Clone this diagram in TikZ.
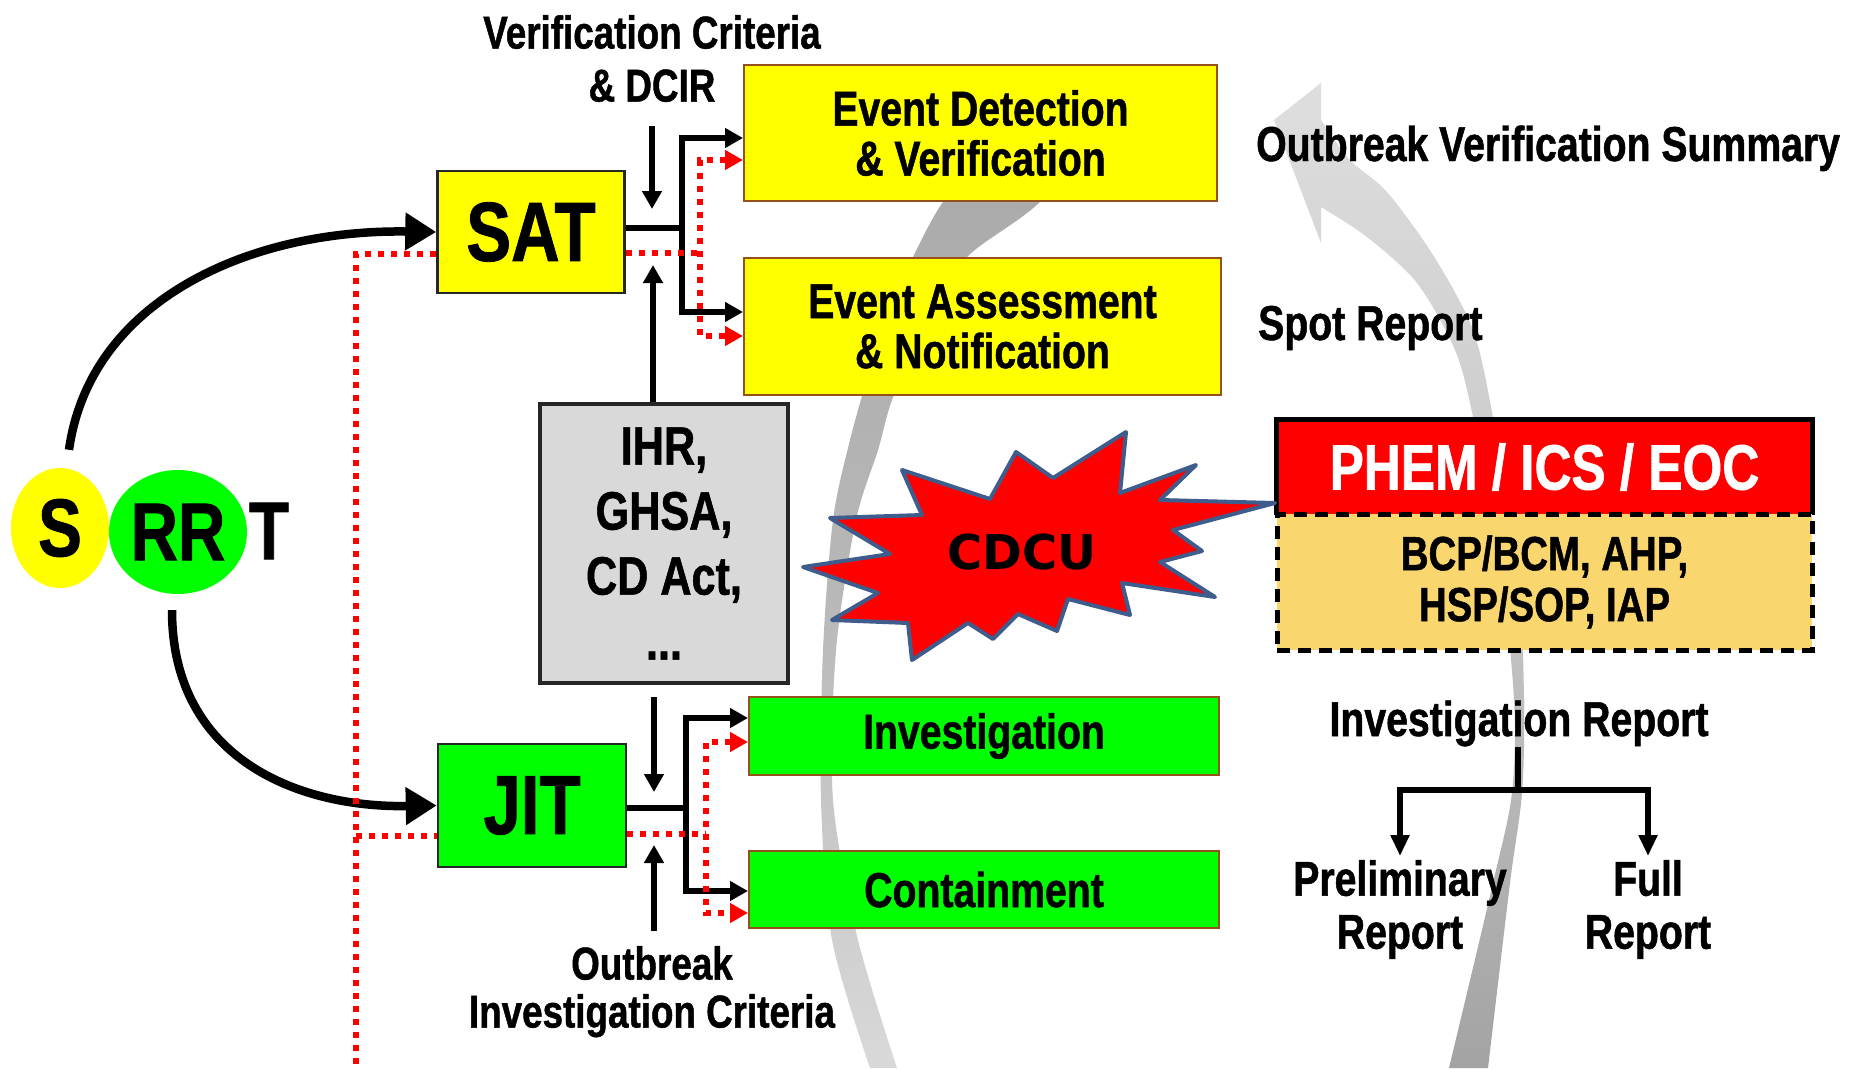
\documentclass[tikz,border=0pt]{standalone}
\usepackage{fontspec}
\setmainfont{Liberation Sans}
\newfontfamily\nf{Liberation Sans}[FakeStretch=0.8,FakeBold=1]
\newfontfamily\vf{DejaVu Sans}
\usetikzlibrary{arrows.meta,shapes.geometric}
\definecolor{ybox}{RGB}{255,255,0}
\definecolor{gbox}{RGB}{0,255,0}
\definecolor{bbrown}{RGB}{150,80,25}
\definecolor{greybox}{RGB}{217,217,217}
\definecolor{orbox}{RGB}{250,214,110}
\definecolor{burstline}{RGB}{62,92,140}
\definecolor{redx}{RGB}{255,0,0}
\definecolor{darkb}{RGB}{38,38,38}
\tikzset{
  stip/.tip={Triangle[length=18pt,width=19pt]},
  btip/.tip={Triangle[length=31pt,width=36pt]},
  ttip/.tip={Triangle[length=21pt,width=18pt]},
  blk/.style={draw=black, line width=5.2pt},
  reddot/.style={draw=redx, line width=6pt, dash pattern=on 6pt off 7pt},
  curvearrow/.style={draw=black, line width=8.5pt, -btip},
  bigbox/.style={draw=darkb, line width=2.5pt, inner sep=0, minimum width=187, minimum height=122,
    font=\nf\bfseries\fontsize{84}{84}\selectfont},
  evbox/.style={draw=bbrown, line width=2pt, inner sep=0, align=center,
    font=\nf\bfseries\fontsize{49}{50}\selectfont},
  lbl/.style={inner sep=0, align=center, font=\nf\bfseries\fontsize{46}{53}\selectfont},
  rlbl/.style={inner sep=0, align=center, font=\nf\bfseries\fontsize{49}{53}\selectfont},
  srrt/.style={inner sep=0, font=\nf\bfseries\fontsize{82}{82}\selectfont},
  burst/.style={fill=redx, draw=burstline, line width=4pt, line join=round}
}
\begin{document}
\begin{tikzpicture}[x=1pt,y=-1pt]
\useasboundingbox (0,0) rectangle (1852,1068);
\fill[white] (0,0) rectangle (1852,1068);

% background circular arrow bands
\shade[top color=black!34, bottom color=black!15, middle color=black!28]
  plot[smooth] coordinates {(870,1068) (832,940) (821,800) (823,650) (833,520) (850,440) (870,370) (895,300) (913,257) (943,202) (990,150) (1050,110)}
  -- plot[smooth] coordinates {(1120,110) (1040,202) (967,257) (925,320) (892,400) (878,450) (856,520) (836,650) (833,800) (858,940) (897,1068)}
  -- cycle;
\shade[top color=black!13, bottom color=black!36, middle color=black!22]
  plot[smooth] coordinates {(1488,1068) (1510,883) (1522,793) (1524,700) (1518,560) (1493,417) (1473,330) (1433,255) (1387,192) (1350,160) (1321,120)}
  -- (1321,83) -- (1274,120) -- (1321,243)
  -- plot[smooth] coordinates {(1321,207) (1367,237) (1417,283) (1455,350) (1473,417) (1500,560) (1514,700) (1512,793) (1493,883) (1449,1068)}
  -- cycle;

% S RR T
\node[srrt, ellipse, fill=ybox, minimum width=98, minimum height=120] (S) at (60,528) {S};
\node[srrt, ellipse, fill=gbox, minimum width=138, minimum height=124] (RR) at (178,532) {RR};
\node[srrt] (T) at (269,531) {T};

% main boxes
\node[bigbox, fill=ybox] (SAT) at (531,232) {SAT};
\node[bigbox, fill=gbox, minimum width=188, minimum height=123] (JIT) at (532,805.5) {JIT};
\node[evbox, fill=ybox, minimum width=473, minimum height=136] (ED) at (980.5,133) {Event Detection\\\& Verification};
\node[evbox, fill=ybox, minimum width=477, minimum height=137] (EA) at (982.5,326.5) {Event Assessment\\\& Notification};
\node[evbox, fill=gbox, minimum width=470, minimum height=78] (INV) at (984,736) {Investigation};
\node[evbox, fill=gbox, minimum width=470, minimum height=77] (CON) at (984,889.5) {Containment};
\node[draw=darkb, line width=4pt, fill=greybox, minimum width=248, minimum height=279, inner sep=0,
  align=center, font=\nf\bfseries\fontsize{54}{65}\selectfont] (IHR) at (664,543.5) {IHR,\\GHSA,\\CD Act,\\...};

% PHEM / orange box
\node[fill=redx, minimum width=535, minimum height=95, inner sep=0, text=white,
  font=\nf\bfseries\fontsize{64}{64}\selectfont] (PHEM) at (1544.5,467) {PHEM / ICS / EOC};
\draw[line width=5pt] (PHEM.south west) |- (PHEM.north east) -- (PHEM.south east);
\node[draw=black, line width=5pt, dash pattern=on 13pt off 8pt, fill=orbox, minimum width=535,
  minimum height=136, inner sep=0, align=center, font=\nf\bfseries\fontsize{48}{51}\selectfont]
  (BCP) at (1544.5,582) {BCP/BCM, AHP,\\HSP/SOP, IAP};

% starburst
\filldraw[burst] (803,567) -- (878,593) -- (832,620) -- (908,623) -- (912,660) -- (968,623)
  -- (993,639) -- (1018,614) -- (1057,631) -- (1068,599) -- (1130,615) -- (1122,583)
  -- (1215,597) -- (1160,562) -- (1202,551) -- (1173,530) -- (1275,503) -- (1160,500)
  -- (1196,465) -- (1120,493) -- (1126,432) -- (1053,478) -- (1016,452) -- (990,499)
  -- (902,470) -- (922,515) -- (830,518) -- (890,554) -- cycle;
\node[inner sep=0, font=\vf\bfseries\fontsize{48}{48}\selectfont] (CDCU) at (1022,552) {CDCU};

% labels
\node[lbl, anchor=north] (VC) at (652,15) {Verification Criteria\\\& DCIR};
\node[lbl, anchor=north, font=\nf\bfseries\fontsize{46}{48}\selectfont] (OIC) at (652,946) {Outbreak\\Investigation Criteria};
\node[rlbl, anchor=base west] (OVS) at (1256,161) {Outbreak Verification Summary};
\node[rlbl, anchor=base west] (SPOT) at (1258,340) {Spot Report};
\node[rlbl, anchor=base] (IR) at (1519,736) {Investigation Report};
\node[rlbl, anchor=north] (PR) at (1400,860) {Preliminary\\Report};
\node[rlbl, anchor=north] (FR) at (1648,860) {Full\\Report};

% curved arrows from SRRT
\draw[curvearrow] ([xshift=9pt,yshift=18pt]S.north) .. controls (90,300) and (250,229) .. (SAT.west);
\draw[curvearrow] ([xshift=-6pt,yshift=-16pt]RR.south) .. controls (172,760) and (300,808) .. (JIT.west);

% red dotted lines on the left
\coordinate (rsat) at (356,254);
\coordinate (rjit) at (356,836);
\coordinate (rbot) at (356,1068);
\draw[reddot] (SAT.west|-rsat) -- (rsat) -- (rbot);
\draw[reddot] (rjit) -- (JIT.west|-rjit);

% SAT outputs
\coordinate (sB) at (682,228);
\coordinate (sBt) at (682,138);
\coordinate (sBb) at (682,312);
\draw[blk] (SAT.east|-sB) -- (sB);
\draw[blk, stip-stip] (ED.west|-sBt) -- (sBt) -- (sBb) -- (EA.west|-sBb);
\coordinate (sR) at (700,253);
\coordinate (sRt) at (700,160);
\coordinate (sRb) at (700,336);
\draw[reddot] (SAT.east|-sR) -- (sR);
\draw[reddot, stip-stip] (ED.west|-sRt) -- (sRt) -- (sRb) -- (EA.west|-sRb);

% JIT outputs
\coordinate (jB) at (686,808);
\coordinate (jBt) at (686,718);
\coordinate (jBb) at (686,891);
\draw[blk] (JIT.east|-jB) -- (jB);
\draw[blk, stip-stip] (INV.west|-jBt) -- (jBt) -- (jBb) -- (CON.west|-jBb);
\coordinate (jR) at (706,834);
\coordinate (jRt) at (706,742);
\coordinate (jRb) at (706,913);
\draw[reddot] (JIT.east|-jR) -- (jR);
\draw[reddot, stip-stip] (INV.west|-jRt) -- (jRt) -- (jRb) -- (CON.west|-jRb);

% vertical input arrows
\coordinate (vcE) at (652,209);
\draw[blk, -stip, shorten <=24pt] (VC.south) -- (vcE);
\coordinate (ihE) at (653,265);
\draw[blk, -stip] (IHR.north-|ihE) -- (ihE);
\coordinate (ihD) at (654,792);
\draw[blk, -stip, shorten <=12pt] (IHR.south-|ihD) -- (ihD);
\coordinate (oiE) at (654,845);
\draw[blk, -stip, shorten <=15pt] (OIC.north-|oiE) -- (oiE);

% report tree
\coordinate (irJ) at (1518,790);
\draw[blk] (IR.south-|irJ) -- (irJ);
\draw[blk, ttip-ttip, shorten <=4pt, shorten >=4pt] (PR.north) |- (irJ) -| (FR.north);
\end{tikzpicture}
\end{document}
